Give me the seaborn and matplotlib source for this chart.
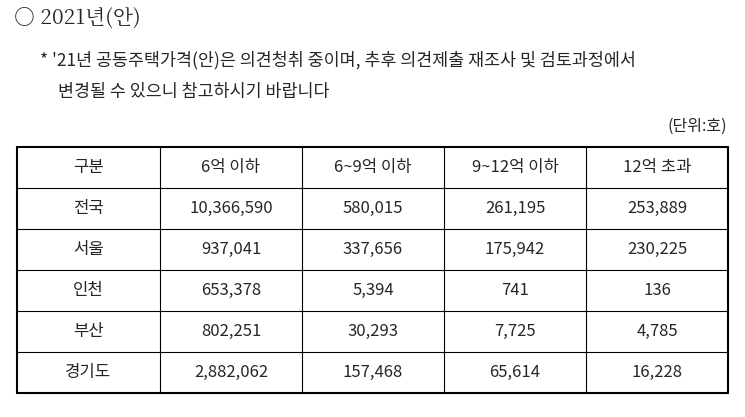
import matplotlib
matplotlib.use("Agg")
import matplotlib.pyplot as plt
import seaborn as sns

sns.set_style("white")
plt.rcParams['font.family'] = ['Noto Sans CJK KR', 'DejaVu Sans']

headers = ["구분", "6억 이하", "6~9억 이하", "9~12억 이하", "12억 초과"]
regions = ["전국", "서울", "인천", "부산", "경기도"]
le6 = ["10,366,590", "937,041", "653,378", "802,251", "2,882,062"]
r6_9 = ["580,015", "337,656", "5,394", "30,293", "157,468"]
r9_12 = ["261,195", "175,942", "741", "7,725", "65,614"]
gt12 = ["253,889", "230,225", "136", "4,785", "16,228"]

W, H = 745, 417
fig = plt.figure(figsize=(W/100, H/100), dpi=100)
ax = fig.add_axes([0, 0, 1, 1])
ax.set_xlim(0, W); ax.set_ylim(H, 0); ax.axis("off")

ax.text(14, 18, "○ 2021년(안)", fontsize=15, va="center", family=['Noto Serif CJK KR','Noto Sans CJK KR','DejaVu Sans'])
ax.text(40, 60, "* '21년 공동주택가격(안)은 의견청취 중이며, 추후 의견제출 재조사 및 검토과정에서", fontsize=12.5, va="center")
ax.text(58, 92, "변경될 수 있으니 참고하시기 바랍니다", fontsize=12.5, va="center")
ax.text(727, 126, "(단위:호)", fontsize=11.5, va="center", ha="right")

xs = [17, 160, 302, 444, 586, 728]
ys = [147, 188, 229, 270, 311, 352, 393]
for i, x in enumerate(xs):
    ax.plot([x, x], [ys[0], ys[-1]], color="black", lw=1.5 if i in (0, len(xs)-1) else 0.8)
for j, y in enumerate(ys):
    ax.plot([xs[0], xs[-1]], [y, y], color="black", lw=1.5 if j in (0, len(ys)-1) else 0.8)

rows = [headers] + [[regions[i], le6[i], r6_9[i], r9_12[i], gt12[i]] for i in range(len(regions))]
for r, row in enumerate(rows):
    cy = (ys[r] + ys[r+1]) / 2
    for c, val in enumerate(row):
        cx = (xs[c] + xs[c+1]) / 2
        ax.text(cx, cy, val, ha="center", va="center", fontsize=12)

fig.savefig("out.png", dpi=100)
